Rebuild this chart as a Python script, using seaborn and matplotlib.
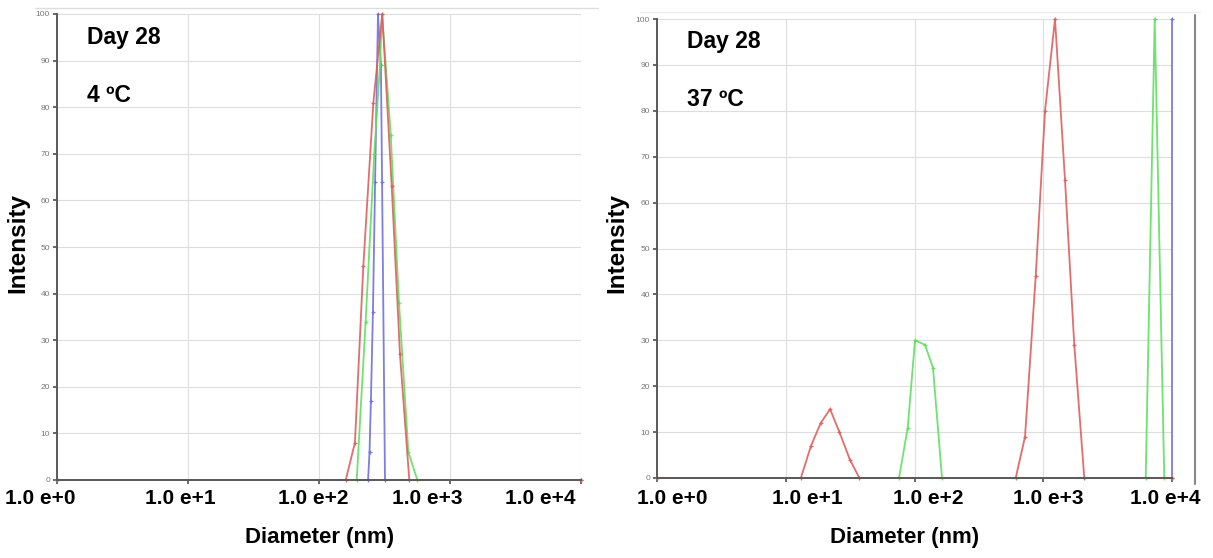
import numpy as np
import pandas as pd
import matplotlib
matplotlib.use("Agg")
import matplotlib.pyplot as plt
from matplotlib.lines import Line2D
import seaborn as sns

# ---- data (diameter in nm) ----
# Day 28, 4 ºC
red_4_d = [1, 160, 188, 218, 260, 304, 359, 415, 489, 10000]
red_4_i = [0, 0, 8, 46, 81, 100, 63, 27, 0, 0]
green_4_d = [1, 194, 227, 264, 292, 303, 353, 408, 481, 563, 10000]
green_4_i = [0, 0, 34, 70, 89, 100, 74, 38, 6, 0, 0]
blue_4_d = [1, 237, 243, 249, 258, 268, 282, 297, 303, 319, 10000]
blue_4_i = [0, 0, 6, 17, 36, 64, 100, 89, 64, 0, 0]

# Day 28, 37 ºC
red_37_d = [1, 13.1, 15.7, 18.7, 22.1, 26.1, 31.5, 37.3,
            611, 722, 874, 1032, 1234, 1475, 1742, 2083, 10000]
red_37_i = [0, 0, 7, 12, 15, 10, 4, 0,
            0, 9, 44, 80, 100, 65, 29, 0, 0]
green_37_d = [1, 75.8, 88.6, 100.9, 120.7, 139.2, 163.6, 6250, 7340, 8710, 10000]
green_37_i = [0, 0, 11, 30, 29, 24, 0, 0, 100, 0, 0]
blue_37_d = [1, 10000, 10000]
blue_37_i = [0, 0, 100]

x_labels = ["1.0 e+0", "1.0 e+1", "1.0 e+2", "1.0 e+3", "1.0 e+4"]
palette = {"red": "#e25c5c", "green": "#5ee05e", "blue": "#6f6fe0"}


def to_frame(series):
    rows = []
    for name, d, i in series:
        rows += [{"series": name, "diameter": a, "intensity": b} for a, b in zip(d, i)]
    return pd.DataFrame(rows)


df_4 = to_frame([("blue", blue_4_d, blue_4_i), ("green", green_4_d, green_4_i),
                 ("red", red_4_d, red_4_i)])
df_37 = to_frame([("blue", blue_37_d, blue_37_i), ("green", green_37_d, green_37_i),
                  ("red", red_37_d, red_37_i)])

sns.set_theme(style="white")
plt.rcParams["font.family"] = ["Liberation Sans", "DejaVu Sans"]

W, H = 1213, 558
fig = plt.figure(figsize=(W / 100, H / 100), dpi=100)


def px_axes(x0, y0, x1, y1):
    return fig.add_axes([x0 / W, 1 - y1 / H, (x1 - x0) / W, (y1 - y0) / H])


def draw_panel(ax, df, temp, label_x, diam_x, int_x):
    sns.lineplot(data=df, x="diameter", y="intensity", hue="series", palette=palette,
                 estimator=None, sort=False, units="series", ax=ax, legend=False,
                 linewidth=1.3, marker="+", markersize=3.5, markeredgewidth=0.9,
                 alpha=0.9, zorder=2, clip_on=False)
    for ln in ax.lines:
        ln.set_markeredgecolor(ln.get_color())
    ax.set_xscale("log")
    ax.set_xlim(1, 10000)
    ax.set_ylim(0, 100)
    ax.set_yticks(range(0, 101, 10))
    ax.set_xticks([1, 10, 100, 1000, 10000])
    ax.set_xticklabels([])
    ax.xaxis.set_minor_locator(matplotlib.ticker.NullLocator())
    ax.tick_params(axis="y", labelsize=6, labelcolor="#777777", length=3,
                   left=True, color="#555555", pad=2)
    ax.tick_params(axis="x", bottom=True, length=3, color="#555555")
    ax.grid(True, color="#dddddd", linewidth=0.8)
    ax.set_axisbelow(True)
    for s in ["top", "right"]:
        ax.spines[s].set_visible(False)
    for s in ["left", "bottom"]:
        ax.spines[s].set_color("#5a5a5a")
        ax.spines[s].set_linewidth(1.4)
        ax.spines[s].set_zorder(2.5)
    ax.set_xlabel("")
    ax.set_ylabel("")
    ax.text(0.058, 0.95, "Day 28", transform=ax.transAxes, fontsize=16.5,
            fontweight="bold", va="center", ha="left", color="black")
    ax.text(0.058, 0.825, temp, transform=ax.transAxes, fontsize=16.5,
            fontweight="bold", va="center", ha="left", color="black")
    for lx, lab in zip(label_x, x_labels):
        fig.text(lx / W, 1 - 498 / H, lab, fontsize=15, fontweight="bold",
                 ha="center", va="center", color="black")
    fig.text(diam_x / W, 1 - 538 / H, "Diameter (nm)", fontsize=16,
             fontweight="bold", ha="center", va="center", color="black")
    fig.text(int_x / W, 1 - 243 / H, "Intensity", fontsize=17.5, fontweight="bold",
             ha="center", va="center", rotation=90, color="black")


ax1 = px_axes(57, 14, 581, 480)
draw_panel(ax1, df_4, "4 ºC", [40, 180, 313, 427, 540], 320, 18)

ax2 = px_axes(657, 19, 1172, 478)
draw_panel(ax2, df_37, "37 ºC", [672, 807, 928, 1048, 1165], 905, 617)

# frame lines left over from the instrument screenshots
fig.add_artist(Line2D([35 / W, 598 / W], [1 - 8 / H, 1 - 8 / H],
                      color="#dddddd", linewidth=1.0))
fig.add_artist(Line2D([640 / W, 1200 / W], [1 - 12 / H, 1 - 12 / H],
                      color="#eeeeee", linewidth=1.0))
fig.add_artist(Line2D([1195 / W, 1195 / W], [1 - 15 / H, 1 - 484 / H],
                      color="#888888", linewidth=1.5))

fig.savefig("out.png", dpi=100)
